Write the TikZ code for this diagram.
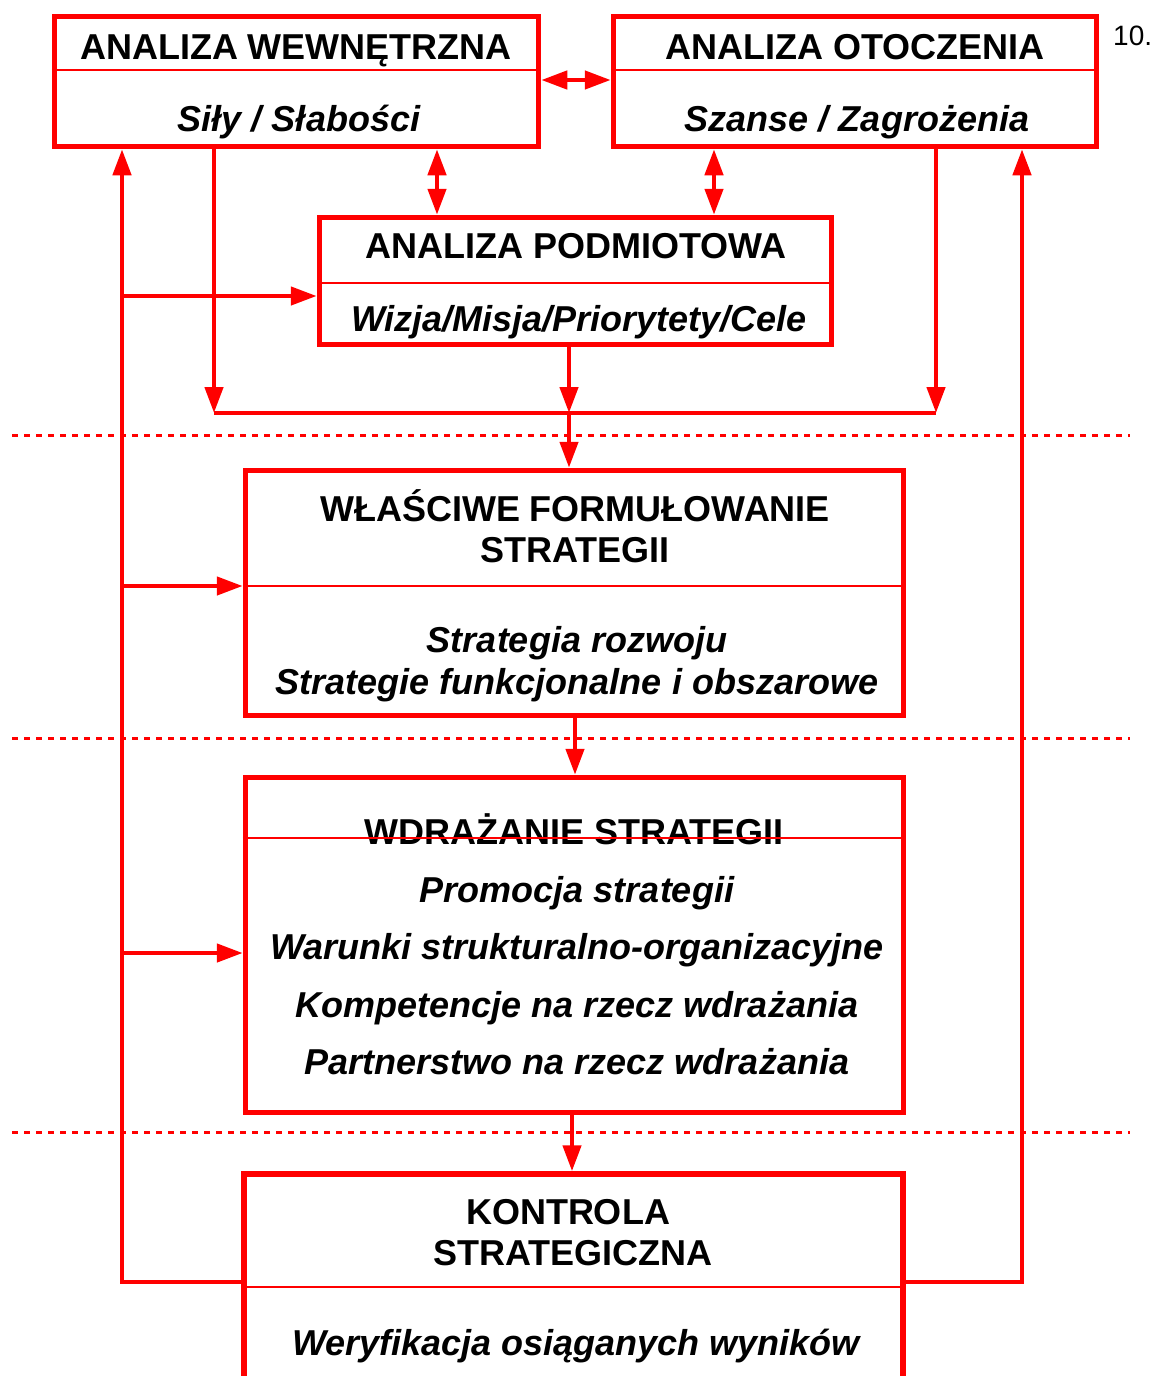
\documentclass[tikz,border=0pt]{standalone}
\usepackage{fontspec}
\setmainfont{Liberation Sans}
\usetikzlibrary{arrows.meta}
\definecolor{rd}{RGB}{255,0,0}
\begin{document}
\begin{tikzpicture}[x=1pt,y=-1pt,
 box/.style={draw=rd, line width=5.5pt, rectangle, inner sep=0pt, fill=white},
 divl/.style={draw=rd, line width=2pt},
 conn/.style={draw=rd, line width=4.5pt},
 arr/.style={conn, -{Triangle[length=26pt,width=18pt]}},
 dbl/.style={conn, {Triangle[length=26pt,width=18pt]}-{Triangle[length=26pt,width=18pt]}},
 dots/.style={draw=rd, line width=3pt, dash pattern=on 6pt off 6pt},
 ttl/.style={font=\fontsize{36}{43}\selectfont\bfseries, anchor=base, inner sep=0pt},
 sub/.style={font=\fontsize{36}{43}\selectfont\bfseries\itshape, anchor=base, inner sep=0pt}]
\useasboundingbox (0,0) rectangle (1152,1376);

% dotted separators
\coordinate (dl) at (12,0);
\coordinate (dr) at (1130,0);
\draw[dots] (dl |- 0,435) -- (dr |- 0,435);
\draw[dots] (dl |- 0,738) -- (dr |- 0,738);
\draw[dots] (dl |- 0,1132) -- (dr |- 0,1132);

% boxes
\node[box, minimum width=484pt, minimum height=130pt] (b1) at (296.5,81.5) {};
\node[box, minimum width=483pt, minimum height=130pt] (b2) at (855,81.5) {};
\node[box, minimum width=512pt, minimum height=127pt] (b3) at (575.5,281) {};
\node[box, minimum width=658pt, minimum height=245pt] (b4) at (574.5,593) {};
\node[box, minimum width=658pt, minimum height=335pt] (b5) at (574.5,945) {};
\node[box, minimum width=659pt, minimum height=220pt] (b6) at (573.5,1284) {};

% texts
\node[ttl] (t1) at (296,59) {ANALIZA WEWNĘTRZNA};
\node[sub] (s1) at (299,131) {Siły / Słabości};
\node[ttl] (t2) at (855,59) {ANALIZA OTOCZENIA};
\node[sub] (s2) at (857,131) {Szanse / Zagrożenia};
\node[ttl] (t3) at (576,258) {ANALIZA PODMIOTOWA};
\node[sub] (s3) at (579,331) {Wizja/Misja/Priorytety/Cele};
\node[ttl] (t4a) at (575,521) {WŁAŚCIWE FORMUŁOWANIE};
\node[ttl] (t4b) at (575,562) {STRATEGII};
\node[sub] (s4a) at (577,652) {Strategia rozwoju};
\node[sub] (s4b) at (577,694) {Strategie funkcjonalne i obszarowe};
\node[ttl] (t5) at (574,844) {WDRAŻANIE STRATEGII};
\node[sub] (s5a) at (577,902) {Promocja strategii};
\node[sub] (s5b) at (577,959) {Warunki strukturalno-organizacyjne};
\node[sub] (s5c) at (577,1017) {Kompetencje na rzecz wdrażania};
\node[sub] (s5d) at (577,1074) {Partnerstwo na rzecz wdrażania};
\node[ttl] (t6a) at (568,1224) {KONTROLA};
\node[ttl] (t6b) at (573,1265) {STRATEGICZNA};
\node[sub] (s6) at (576,1355) {Weryfikacja osiąganych wyników};
\node[font=\fontsize{28}{34}\selectfont, anchor=base west, inner sep=0pt] (num) at (1113,45) {10.};

% dividers
\draw[divl] (b1.west |- 0,70) -- (b1.east |- 0,70);
\draw[divl] (b2.west |- 0,70) -- (b2.east |- 0,70);
\draw[divl] (b3.west |- 0,283) -- (b3.east |- 0,283);
\draw[divl] (b4.west |- 0,586) -- (b4.east |- 0,586);
\draw[divl] (b5.west |- 0,838) -- (b5.east |- 0,838);
\draw[divl] (b6.west |- 0,1287) -- (b6.east |- 0,1287);

% helper coordinates
\coordinate (xl) at (122,0);
\coordinate (xr) at (1022,0);
\coordinate (xa) at (437,0);
\coordinate (xb) at (714,0);
\coordinate (xc) at (214,0);
\coordinate (xd) at (936,0);
\coordinate (xm) at (569,0);
\coordinate (xe) at (575,0);
\coordinate (xf) at (572,0);
\coordinate (yj) at (0,413);
\coordinate (yf) at (0,1282);
\coordinate (yt) at (0,80);

% connectors
\draw[dbl] (b1.east |- yt) -- (b2.west |- yt);
\draw[dbl] (b1.south -| xa) -- (b3.north -| xa);
\draw[dbl] (b2.south -| xb) -- (b3.north -| xb);
\draw[arr] (b6.west |- yf) -| (b1.south -| xl);
\draw[arr] (b6.east |- yf) -| (b2.south -| xr);
\draw[conn] (xc |- yj) -- (xd |- yj);
\draw[arr] (b1.south -| xc) -- (xc |- yj);
\draw[arr] (b2.south -| xd) -- (xd |- yj);
\draw[arr] (b3.south -| xm) -- (xm |- yj);
\draw[arr] (xm |- yj) -- (b4.north -| xm);
\draw[arr] (xl |- 0,296) -- (b3.west |- 0,296);
\draw[arr] (xl |- 0,586) -- (b4.west |- 0,586);
\draw[arr] (xl |- 0,953) -- (b5.west |- 0,953);
\draw[arr] (b4.south -| xe) -- (b5.north -| xe);
\draw[arr] (b5.south -| xf) -- (b6.north -| xf);
\end{tikzpicture}
\end{document}
